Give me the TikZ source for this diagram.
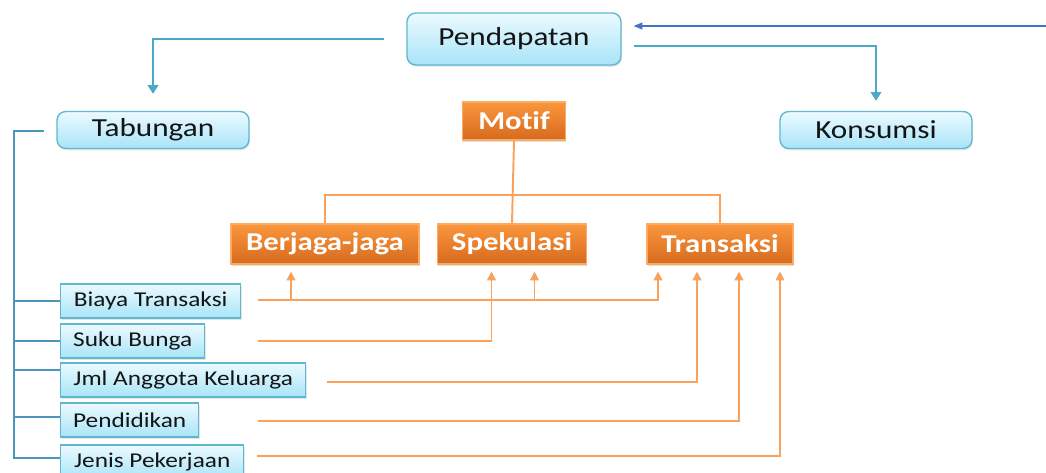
\documentclass[tikz,border=0pt]{standalone}
\usepackage{fontspec}
\setmainfont{Carlito}[FakeStretch=1.2, Ligatures=NoCommon]
\usetikzlibrary{arrows.meta, shadows}

\definecolor{boxline}{RGB}{96,184,208}
\definecolor{boxtop}{RGB}{236,250,255}
\definecolor{boxbot}{RGB}{168,228,248}
\definecolor{linkblue}{RGB}{75,168,198}
\definecolor{inblue}{RGB}{68,114,196}
\definecolor{bracketblue}{RGB}{74,150,190}
\definecolor{ortop}{RGB}{250,150,60}
\definecolor{orbot}{RGB}{214,106,30}
\definecolor{orline}{RGB}{250,162,92}
\definecolor{textdark}{RGB}{20,20,20}

\begin{document}
\begin{tikzpicture}[
    x=0.02cm, y=-0.02cm,
    topic/.style={
        rectangle, rounded corners=5pt, draw=boxline, line width=0.8pt,
        top color=boxtop, bottom color=boxbot, text=textdark,
        minimum width=3.84cm, minimum height=0.74cm, inner sep=0pt,
        font=\fontsize{14.8}{17}\selectfont,
        drop shadow={opacity=0.2, shadow xshift=0.5pt, shadow yshift=-1pt}
    },
    motive/.style={
        rectangle, draw=ortop!80!white, line width=0.6pt,
        top color=ortop, bottom color=orbot, text=white,
        minimum height=0.8cm, inner sep=0pt,
        font=\fontsize{14.6}{17}\selectfont\bfseries,
        drop shadow={opacity=0.25, shadow xshift=0.5pt, shadow yshift=-1pt}
    },
    factor/.style={
        rectangle, draw=boxline, line width=0.8pt,
        top color=boxtop, bottom color=boxbot, text=textdark,
        minimum height=0.68cm, inner sep=0pt, anchor=west,
        font=\fontsize{12}{14}\selectfont,
        drop shadow={opacity=0.2, shadow xshift=0.5pt, shadow yshift=-1pt}
    },
    link/.style={draw=linkblue, line width=1.4pt, -{Triangle[length=5pt, width=6pt]}},
    income/.style={draw=inblue, line width=0.6pt, -{Triangle[length=5pt, width=4pt]}},
    bracket/.style={draw=bracketblue, line width=1.4pt},
    tree/.style={draw=orline, line width=1.1pt},
    feed/.style={draw=orline, line width=0.8pt},
    feedup/.style={feed, -{Triangle[length=5pt, width=5pt]}, shorten >=0.14cm}
]
\useasboundingbox (0,0) rectangle (1046,473);

% top level
\node[topic, minimum width=4.28cm, minimum height=1.04cm] (pend) at (514,39) {Pendapatan};
\node[topic] (tab) at (153,130) {Tabungan};
\node[topic] (kons) at (876,130) {Konsumsi};

% motives
\node[motive, minimum width=2.06cm, minimum height=0.76cm] (motif) at (514,121) {Motif};
\node[motive, minimum width=3.76cm] (berj) at (325,244) {Berjaga-jaga};
\node[motive, minimum width=2.98cm] (spek) at (512,244) {Spekulasi};
\node[motive, minimum width=2.92cm] (trans) at (720,244) {Transaksi};

% factors
\node[factor, minimum width=3.6cm] (biaya) at (60,301) {Biaya Transaksi};
\node[factor, minimum width=2.88cm] (suku) at (60,341) {Suku Bunga};
\node[factor, minimum width=4.9cm] (jml) at (60,380) {Jml Anggota Keluarga};
\node[factor, minimum width=2.76cm] (didik) at (60,420) {Pendidikan};
\node[factor, minimum width=3.66cm] (jenis) at (60,462) {Jenis Pekerjaan};

% income and split
\coordinate (inc) at (1046,26);
\draw[income, shorten >=0.24cm] (inc) -- (inc -| pend.east);
\draw[link, shorten <=0.44cm, shorten >=0.34cm] (pend.west) -| (tab.north);
\draw[link, shorten <=0.24cm, shorten >=0.2cm] ([yshift=-0.14cm]pend.east) -| (kons.north);

% saving bracket
\coordinate (brk) at (14,131);
\draw[bracket, shorten <=0.24cm] (tab.west |- brk) -- (brk) |- ([yshift=0.08cm]jenis.west);
\foreach \f/\dy in {biaya/0, suku/0, jml/0.2, didik/0.06}{
    \coordinate (tick) at ([yshift=\dy cm]\f.west);
    \draw[bracket] (brk |- tick) -- (tick);
}

% motif tree
\coordinate (bar) at (0,195);
\draw[tree] (motif.south) -- (spek.north);
\draw[tree] (berj.north) |- (bar -| motif.south) -| (trans.north);

% arrow heads under the motives
\coordinate (h1) at ([xshift=-0.68cm]berj.south);
\coordinate (h2) at ([xshift=-0.41cm]spek.south);
\coordinate (h3) at ([xshift=0.45cm]spek.south);
\coordinate (h4) at ([xshift=-1.24cm]trans.south);
\coordinate (h5) at ([xshift=-0.46cm]trans.south);
\coordinate (h6) at ([xshift=0.38cm]trans.south);
\coordinate (h7) at ([xshift=1.2cm]trans.south);

% factor lines
\coordinate (s1) at (258,300);
\coordinate (s2) at (258,341);
\coordinate (s3) at (327,382);
\coordinate (s4) at (258,421);
\coordinate (s5) at (257,456);
\draw[feedup] (s1) -| (h4);
\draw[feedup] (s1 -| h1) -- (h1);
\draw[feedup] (s1 -| h3) -- (h3);
\draw[feedup] (s2) -| (h2);
\draw[feedup] (s3) -| (h5);
\draw[feedup] (s4) -| (h6);
\draw[feedup] (s5) -| (h7);

\end{tikzpicture}
\end{document}
